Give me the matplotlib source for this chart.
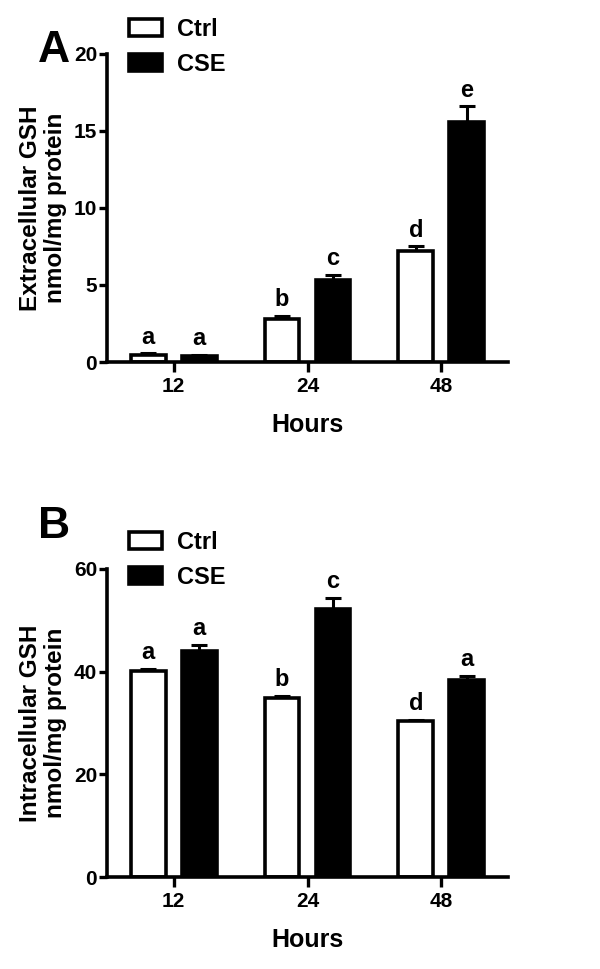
import numpy as np
import matplotlib
matplotlib.use("Agg")
from matplotlib import pyplot as plt

plt.rcParams['font.family'] = ['Liberation Sans', 'DejaVu Sans']
plt.rcParams['font.weight'] = 'bold'

#=================================================
#DATA
#=================================================
hours = ['12', '24', '48']
groups = ['Ctrl', 'CSE']

extra_ctrl = [0.45, 2.8, 7.2]
extra_ctrl_err = [0.12, 0.2, 0.3]
extra_cse = [0.38, 5.3, 15.6]
extra_cse_err = [0.1, 0.35, 1.0]
extra_ctrl_lbl = ['a', 'b', 'd']
extra_cse_lbl = ['a', 'c', 'e']

intra_ctrl = [40.2, 34.8, 30.3]
intra_ctrl_err = [0.3, 0.5, 0.3]
intra_cse = [44.1, 52.2, 38.3]
intra_cse_err = [1.1, 2.2, 0.9]
intra_ctrl_lbl = ['a', 'b', 'd']
intra_cse_lbl = ['a', 'c', 'a']

#=================================================
#PLOT FUNCTIONS
#=================================================
def draw_panel(ax, ctrl, ctrl_err, cse, cse_err, ctrl_lbl, cse_lbl,
               ymax, yticks, ylabel, panel, letter_y, leg_y):
    x = np.arange(len(hours))
    w = 0.26
    off = 0.19
    b1 = ax.bar(x - off, ctrl, w, color='white', edgecolor='black',
                linewidth=2.6, label=groups[0], zorder=2)
    b2 = ax.bar(x + off, cse, w, color='black', edgecolor='black',
                linewidth=2.6, label=groups[1], zorder=2)
    for xs, vals, errs, lbls in [(x - off, ctrl, ctrl_err, ctrl_lbl),
                                 (x + off, cse, cse_err, cse_lbl)]:
        ax.errorbar(xs, vals, yerr=[np.zeros(len(vals)), errs], fmt='none',
                    ecolor='black', elinewidth=2.2, capsize=6, capthick=2.2,
                    zorder=1)
        for xi, v, e, l in zip(xs, vals, errs, lbls):
            ax.annotate(l, (xi, v + e), xytext=(0, 7), textcoords='offset points',
                        ha='center', va='baseline', fontsize=17, fontweight='bold')

    ax.set_xlim(-0.5, 2.5)
    ax.set_ylim(0, ymax)
    ax.set_yticks(yticks)
    ax.set_xticks(x)
    ax.set_xticklabels(hours)
    for s in ['top', 'right']:
        ax.spines[s].set_visible(False)
    for s in ['left', 'bottom']:
        ax.spines[s].set_linewidth(2.6)
    ax.tick_params(axis='y', length=6, width=2.4, pad=1, labelsize=15)
    ax.tick_params(axis='x', length=7, width=2.4, pad=4, labelsize=15)
    ax.set_xlabel('Hours', fontsize=18, fontweight='bold', labelpad=12)
    ax.set_ylabel(ylabel, fontsize=17.5, fontweight='bold', labelpad=5,
                  linespacing=1.1)

    fig = ax.figure
    fig.text(0.063, letter_y, panel, fontsize=32,
             fontweight='bold', ha='left', va='baseline')
    leg = ax.legend(handles=[b1, b2], loc='upper left', frameon=False,
                    bbox_to_anchor=(0.215, leg_y), bbox_transform=fig.transFigure,
                    fontsize=17, handlelength=1.4, handleheight=0.75,
                    handletextpad=0.65, labelspacing=0.5, borderaxespad=0,
                    borderpad=0)
    for t in leg.get_texts():
        t.set_fontweight('bold')


fig = plt.figure(figsize=(6, 9.69), dpi=100)
axA = fig.add_axes([0.178, 0.6264, 0.669, 0.318])
axB = fig.add_axes([0.178, 0.0949, 0.669, 0.318])

draw_panel(axA, extra_ctrl, extra_ctrl_err, extra_cse, extra_cse_err,
           extra_ctrl_lbl, extra_cse_lbl, 20, [0, 5, 10, 15, 20],
           'Extracellular GSH\nnmol/mg protein', 'A', 1 - 62 / 969, 1 - 18 / 969)
draw_panel(axB, intra_ctrl, intra_ctrl_err, intra_cse, intra_cse_err,
           intra_ctrl_lbl, intra_cse_lbl, 60, [0, 20, 40, 60],
           'Intracellular GSH\nnmol/mg protein', 'B', 1 - 538 / 969, 1 - 531 / 969)

fig.savefig('out.png', dpi=100)
